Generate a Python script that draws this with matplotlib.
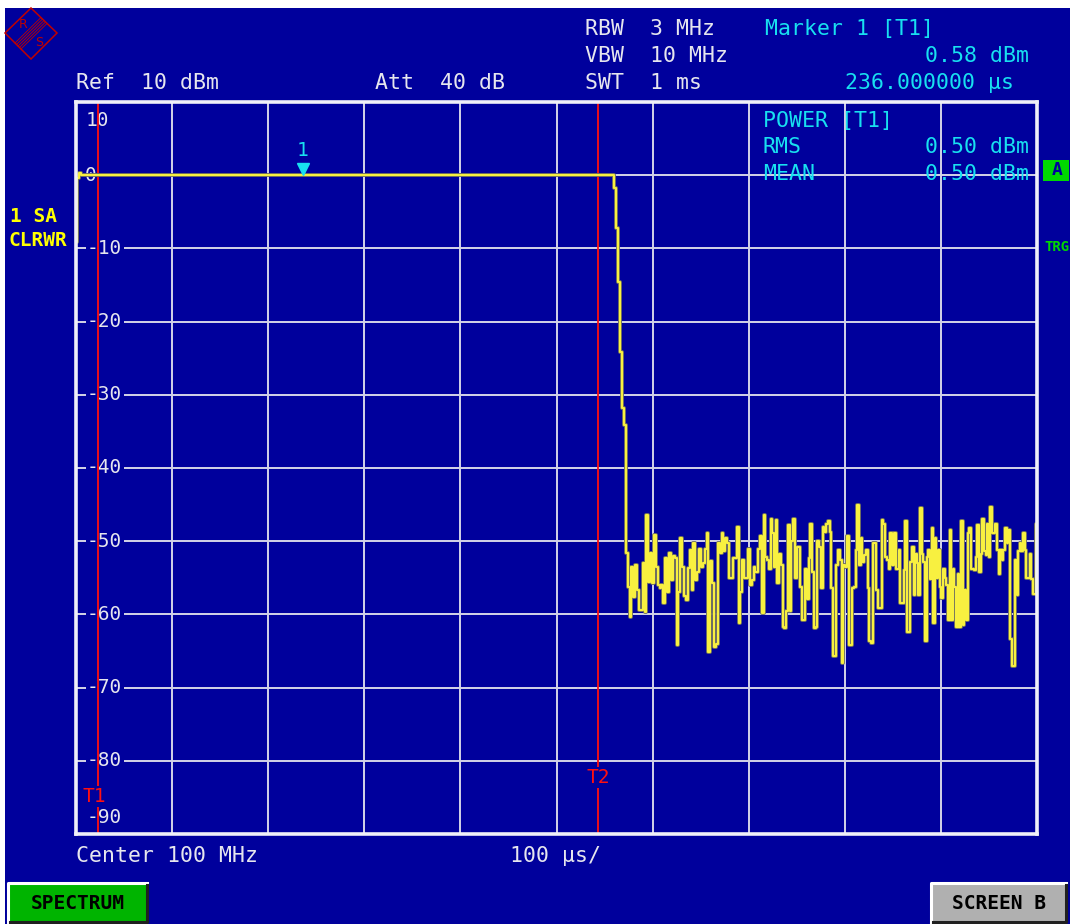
import matplotlib
matplotlib.use("Agg")
import matplotlib.pyplot as plt
import matplotlib.patheffects as pe
from matplotlib.patches import Rectangle, Polygon
from matplotlib.lines import Line2D
import numpy as np

# ---------------- data ----------------
ref_level_dbm = 10
bottom_level_dbm = -90
sweep_us = 1000
x_ticks_us = [0, 100, 200, 300, 400, 500, 600, 700, 800, 900, 1000]
y_ticks_db = [10, 0, -10, -20, -30, -40, -50, -60, -70, -80, -90]
y_tick_labels = ["10", "0", "-10", "-20", "-30", "-40", "-50", "-60", "-70", "-80", "-90"]

rise_t = [0, 2, 4]
rise_db = [-9.1, -0.4, 0.3]
flat_t = [6, 559]
flat_db = [0.0, 0.0]
drop_t = [561, 563, 565, 567, 569, 571, 573]
drop_db = [-1.8, -7.2, -14.6, -24.2, -31.8, -34.1, -51.6]

noise_a_range = (575, 708)
noise_a_db = [-56.3, -60.4, -53.5, -57.6, -53.3, -56.7, -59.4, -59.4, -53.0, -59.7,
              -46.4, -55.6, -51.6, -55.7, -49.2, -53.5, -56.0, -56.4, -56.0, -58.4,
              -52.3, -57.0, -51.6, -55.3, -52.0, -52.3, -64.2, -57.0, -49.6, -53.5,
              -57.5, -58.0, -53.7, -51.2, -56.6, -50.3, -55.3, -54.2, -51.0, -53.5,
              -53.0, -51.0, -48.9, -65.1, -52.7, -55.7, -64.5, -64.0, -50.3, -51.6,
              -48.9, -51.4, -49.6, -50.3, -55.0, -55.0, -52.3, -52.3, -48.1, -61.2,
              -57.0, -52.5, -55.0, -55.0, -51.0, -56.0, -55.3, -53.5, -54.2]
noise_b_range = (711, 850)
noise_b_db = [-51.0, -49.3, -59.8, -46.4, -52.2, -52.5, -53.8, -46.9, -48.9, -53.5,
              -47.1, -55.7, -51.7, -53.3, -61.7, -61.9, -59.6, -47.8, -59.6, -50.0,
              -46.9, -55.0, -50.8, -50.8, -56.2, -60.7, -60.7, -53.8, -57.9, -52.3,
              -47.6, -54.2, -61.9, -61.7, -50.0, -50.8, -56.4, -48.0, -48.7, -47.6,
              -47.3, -48.7, -56.4, -65.7, -65.7, -53.3, -51.2, -52.5, -66.6, -53.3,
              -53.5, -49.3, -64.2, -64.2, -56.4, -56.2, -51.2, -45.0, -53.3, -49.6,
              -52.8, -51.9, -51.2, -56.4, -63.6, -63.9, -50.2, -50.2, -56.7, -59.1,
              -59.1, -47.1, -47.6, -52.2, -52.5, -53.8, -48.9, -53.3]
noise_c_range = (852, 1000)
noise_c_db = [-48.9, -53.8, -53.8, -51.2, -58.4, -58.4, -54.0, -47.3, -62.4, -62.4,
              -52.8, -50.8, -57.4, -51.7, -53.0, -57.4, -45.5, -51.7, -52.8, -63.6,
              -52.2, -51.2, -55.2, -48.2, -61.2, -49.6, -55.0, -51.2, -56.2, -57.7,
              -53.8, -55.0, -56.0, -60.7, -48.5, -60.7, -53.8, -56.2, -61.7, -54.5,
              -61.7, -47.3, -61.5, -56.7, -60.7, -48.9, -48.2, -53.8, -53.8, -54.0,
              -52.2, -47.8, -54.2, -51.7, -46.9, -51.4, -51.9, -47.6, -52.2, -45.3,
              -48.9, -48.9, -47.6, -51.2, -54.5, -51.2, -52.5, -51.2, -48.2, -50.2,
              -48.5, -63.4, -67.1, -67.1, -52.5, -57.4, -51.4, -50.2, -51.4, -48.9,
              -51.2, -55.0, -55.0, -51.7, -55.2, -57.2, -57.2, -47.6]

marker1_us = 236
marker1_db = 0.58
t1_us = 23
t2_us = 543

header_left = [("Ref  10 dBm", 76, 83), ("Att  40 dB", 375, 83)]
header_mid = [("RBW  3 MHz", 585, 29), ("VBW  10 MHz", 585, 56), ("SWT  1 ms", 585, 83)]
header_marker = [("Marker 1 [T1]", 765, 29), ("0.58 dBm", 925, 56), ("236.000000 \u00b5s", 845, 83)]
power_text = [("POWER [T1]", 763, 121), ("RMS", 763, 147), ("0.50 dBm", 925, 147),
              ("MEAN", 763, 174), ("0.50 dBm", 925, 174)]
footer_text = [("Center 100 MHz", 76, 856), ("100 \u00b5s/", 510, 856)]

# ---------------- style ----------------
W, H = 1070, 924
BLUE = "#00009c"
WHITE = "#e6e6ee"
CYAN = "#18e0f0"
YELLOW = "#f8f040"
RED = "#ff1010"
GREEN = "#00d800"
MONO = "DejaVu Sans Mono"


def fx(px):
    return px / W


def fy(py):
    return 1 - py / H


fig = plt.figure(figsize=(W / 100, H / 100), dpi=100, facecolor="white")
fig.patches.append(Rectangle((fx(5), 0), 1 - fx(5), fy(8), transform=fig.transFigure,
                             facecolor=BLUE, edgecolor="none", zorder=-10))

ax = fig.add_axes([fx(76), fy(834), fx(1037) - fx(76), fy(102) - fy(834)])
ax.set_zorder(1)
ax.set_facecolor(BLUE)
ax.set_xlim(0, sweep_us)
ax.set_ylim(bottom_level_dbm, ref_level_dbm)
ax.set_xticks(x_ticks_us)
ax.set_yticks(y_ticks_db)
ax.tick_params(length=0, labelbottom=False, labelleft=False)
ax.grid(True, color="#d4d4e8", lw=1.4, zorder=1)
ax.set_axisbelow(True)
for s in ax.spines.values():
    s.set_color("#f0f0f8")
    s.set_linewidth(2.6)
    s.set_zorder(6)

# y labels inside the graticule
for i, (v, lab) in enumerate(zip(y_ticks_db, y_tick_labels)):
    yy = v
    xx = 11.4
    if i == 0:
        yy = v - 2.5
        xx = 10.4
    elif i == len(y_ticks_db) - 1:
        yy = v + 2.2
    elif v == 0:
        xx = 9.5
    ax.text(xx, yy, lab, family=MONO, fontsize=14, color=WHITE, ha="left", va="center",
            zorder=2, bbox=dict(facecolor=BLUE, edgecolor="none", pad=1.0))

# T1 / T2 lines
for tt, lab, ly in [(t1_us, "T1", -84.9), (t2_us, "T2", -82.3)]:
    ax.axvline(tt, color=RED, lw=1.3, zorder=3)
    ax.text(tt - 3.5 if lab == "T1" else tt, ly, lab, family=MONO, fontsize=14, color=RED,
            ha="center", va="center", zorder=4,
            bbox=dict(facecolor=BLUE, edgecolor="none", pad=0.5))

# trace
t = list(rise_t) + list(flat_t) + list(drop_t)
d = list(rise_db) + list(flat_db) + list(drop_db)
for rng, vals in [(noise_a_range, noise_a_db), (noise_b_range, noise_b_db), (noise_c_range, noise_c_db)]:
    t += list(np.linspace(rng[0], rng[1], len(vals)))
    d += list(vals)
ax.plot(t, d, color=YELLOW, lw=1.5, drawstyle="steps-mid", zorder=5, clip_on=True,
        path_effects=[pe.Stroke(linewidth=2.8, foreground="#707060"), pe.Normal()])

# marker 1
ax.plot([marker1_us], [0.9], marker="v", color=CYAN, markersize=8, zorder=7, ls="none")
ax.text(marker1_us, 3.4, "1", family=MONO, fontsize=14, color=CYAN, ha="center", va="center", zorder=7)

# texts in figure pixel coordinates
for txt, x, y in header_left + header_mid + footer_text:
    fig.text(fx(x), fy(y), txt, family=MONO, fontsize=15.5, color=WHITE, ha="left", va="center")
for txt, x, y in header_marker:
    fig.text(fx(x), fy(y), txt, family=MONO, fontsize=15.5, color=CYAN, ha="left", va="center")
for txt, x, y in power_text:
    ax.text(fx(x), fy(y), txt, family=MONO, fontsize=15.5, color=CYAN, ha="left", va="center",
            transform=fig.transFigure, zorder=8)

fig.text(fx(10), fy(216), "1 SA", family=MONO, fontsize=14, weight="bold", color="#ffff00", ha="left", va="center")
fig.text(fx(8), fy(240), "CLRWR", family=MONO, fontsize=14, weight="bold", color="#ffff00", ha="left", va="center")

# right side "A" and "TRG"
fig.patches.append(Rectangle((fx(1043), fy(181)), fx(26), fy(160) - fy(181), transform=fig.transFigure,
                             facecolor=GREEN, edgecolor="none"))
fig.text(fx(1057), fy(170), "A", family=MONO, fontsize=13, weight="bold", color=BLUE, ha="center", va="center")
fig.text(fx(1044), fy(247), "TRG", family=MONO, fontsize=10, weight="bold", color=GREEN, ha="left", va="center")


# buttons
def button(x0, x1, y0, y1, fc, label):
    fig.patches.append(Rectangle((fx(x0), fy(y1)), fx(x1 - x0), fy(y0) - fy(y1), transform=fig.transFigure,
                                 facecolor=fc, edgecolor="none"))
    fig.lines.append(Line2D([fx(x0), fx(x0), fx(x1)], [fy(y1), fy(y0), fy(y0)], transform=fig.transFigure,
                            color="white", lw=2.2))
    fig.lines.append(Line2D([fx(x0 + 2), fx(x1), fx(x1)], [fy(y1), fy(y1), fy(y0 + 2)], transform=fig.transFigure,
                            color="#202020", lw=2.2))
    fig.text(fx((x0 + x1) / 2), fy((y0 + y1) / 2 + 1), label, family=MONO, fontsize=14, weight="bold",
             color="black", ha="center", va="center")


button(8, 147, 883, 922, "#00b400", "SPECTRUM")
button(931, 1066, 883, 922, "#b0b0b0", "SCREEN B")

# R&S logo
LRED = "#c00000"
fig.patches.append(Polygon([(fx(31), fy(8)), (fx(57), fy(33)), (fx(31), fy(59)), (fx(5), fy(33))],
                           closed=True, transform=fig.transFigure, facecolor="none", edgecolor=LRED, lw=1.1))
for dd in [-3, -1.5, 0, 1.5, 3]:
    fig.lines.append(Line2D([fx(44 + dd), fx(18 + dd)], [fy(20.5 + dd), fy(46 + dd)],
                            transform=fig.transFigure, color=LRED, lw=0.6))
fig.text(fx(23), fy(24), "R", family="DejaVu Sans", fontsize=9, color=LRED, ha="center", va="center")
fig.text(fx(39), fy(42), "S", family="DejaVu Sans", fontsize=9, color=LRED, ha="center", va="center")

fig.savefig("out.png", dpi=100, facecolor="white")
